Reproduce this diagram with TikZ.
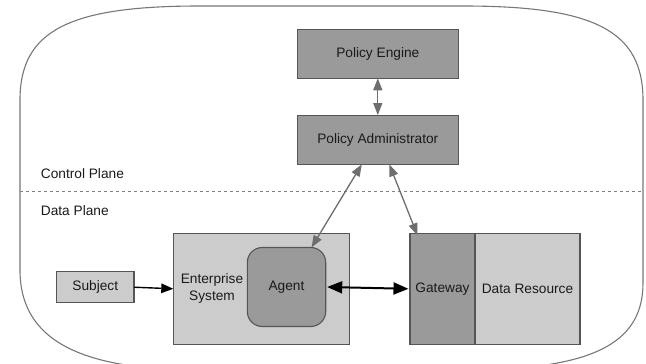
\documentclass[tikz,border=0pt]{standalone}
\usepackage{fontspec}
\setmainfont{Liberation Sans}
\usetikzlibrary{arrows.meta,calc}
\definecolor{midgray}{HTML}{9A9A9A}
\definecolor{lightgray2}{HTML}{CCCCCC}
\definecolor{edgegray}{HTML}{555555}
\definecolor{outergray}{HTML}{777777}
\definecolor{arrowgray}{HTML}{6E6E6E}
\definecolor{txt}{HTML}{1A1A1A}
\begin{document}
\begin{tikzpicture}[x=1pt,y=-1pt,
  font=\fontsize{13.7}{16.5}\selectfont, text=txt,
  box/.style={draw=edgegray, line width=1.1pt, inner sep=0pt, outer sep=0pt},
  darkbox/.style={box, fill=midgray},
  lightbox/.style={box, fill=lightgray2},
  graytip/.tip={Triangle[length=12pt,width=9pt]},
  blacktip/.tip={Triangle[length=15pt,width=12pt]},
  subjtip/.tip={Triangle[length=12pt,width=9.5pt]},
  grayarrow/.style={draw=arrowgray, fill=arrowgray, line width=1.3pt, graytip-graytip},
  blackarrow/.style={draw=black, line width=2pt, blacktip-blacktip},
  onearrow/.style={draw=black, line width=1.4pt, -subjtip},
  planelabel/.style={anchor=west, inner sep=0pt}
]
\useasboundingbox (0,0) rectangle (646,364);
\clip (0,0) rectangle (646,364);
% outer rounded frame
\draw[outergray, line width=1.1pt]
  (20,100) .. controls (20,30) and (70,6) .. (200,6) -- (463,6)
  .. controls (593,6) and (643,30) .. (643,100) -- (643,283)
  .. controls (643,345) and (590,370) .. (463,370) -- (200,370)
  .. controls (80,370) and (20,340) .. (20,270) -- cycle;
% plane divider
\draw[gray, line width=1.1pt, dash pattern=on 3pt off 3pt] (20,191.7) -- (643,191.7);
\node[planelabel] (cp) at (40.7,173.3) {Control Plane};
\node[planelabel] (dp) at (40.7,211) {Data Plane};
% control plane boxes
\node[darkbox, minimum width=161pt, minimum height=49pt] (pe) at (377.8,53.8) {Policy Engine};
\node[darkbox, minimum width=161pt, minimum height=49.3pt] (pa) at (377.8,139.7) {Policy Administrator};
% data plane boxes
\node[lightbox, minimum width=176pt, minimum height=111pt] (es) at (261.3,288.8) {};
\node[align=center, inner sep=0pt] (estext) at (212,288.5) {Enterprise\\System};
\node[box, fill=midgray, rounded corners=15pt, minimum width=78.4pt, minimum height=79pt] (agent) at (286.5,287) {Agent};
\node[lightbox, minimum width=77.3pt, minimum height=31pt] (subj) at (95.3,287.2) {Subject};
\node[darkbox, minimum width=65pt, minimum height=111pt] (gw) at (442.5,288.8) {Gateway};
\node[lightbox, minimum width=105pt, minimum height=111pt] (dr) at (527.5,288.8) {Data Resource};
% connectors
\draw[grayarrow] (pe.south) -- (pa.north);
\draw[grayarrow] ([xshift=-16pt]pa.south) -- ([xshift=25pt]agent.north);
\draw[grayarrow] ([xshift=11.5pt]pa.south) -- ([xshift=-25pt,yshift=-2pt]gw.north);
\draw[blackarrow] ([xshift=1.5pt]agent.east) -- ([xshift=-1.5pt]gw.west);
\draw[onearrow] (subj.east) -- (es.west);
\end{tikzpicture}
\end{document}
